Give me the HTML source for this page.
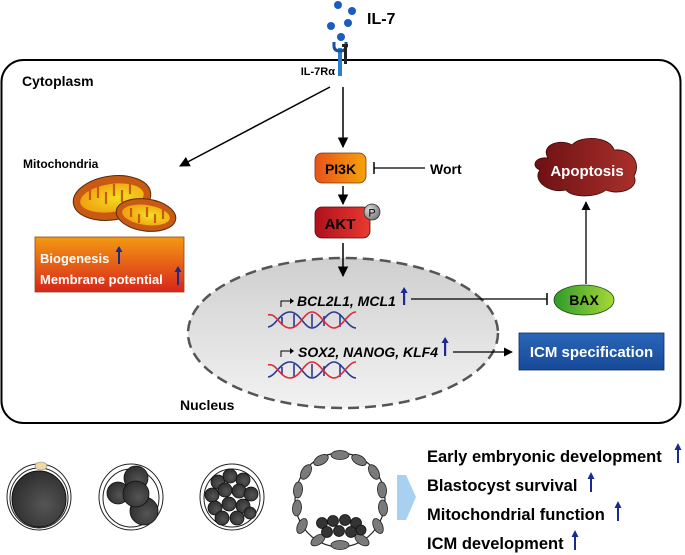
<!DOCTYPE html>
<html><head><meta charset="utf-8"><style>
html,body{margin:0;padding:0;background:#fff;width:685px;height:555px;overflow:hidden}
svg{display:block;font-family:"Liberation Sans",Arial,sans-serif;font-weight:bold}
</style></head><body>
<svg width="685" height="555" viewBox="0 0 685 555" xmlns="http://www.w3.org/2000/svg">
<defs>
<marker id="ah" viewBox="0 0 10 10" refX="9" refY="5" markerWidth="7" markerHeight="7" orient="auto-start-reverse"><path d="M0,0 L10,5 L0,10 z" fill="#000"/></marker>
<linearGradient id="pi3k" x1="0" x2="1"><stop offset="0" stop-color="#e8521a"/><stop offset="1" stop-color="#f5a20a"/></linearGradient>
<linearGradient id="akt" x1="0" x2="1"><stop offset="0" stop-color="#b0101c"/><stop offset="1" stop-color="#e83a30"/></linearGradient>
<linearGradient id="bio" x1="0" y1="0" x2="0" y2="1"><stop offset="0" stop-color="#f39a12"/><stop offset="1" stop-color="#d8251c"/></linearGradient>
<linearGradient id="apo" x1="0" x2="1"><stop offset="0" stop-color="#6e1014"/><stop offset="1" stop-color="#a8302a"/></linearGradient>
<linearGradient id="bax" x1="0" x2="1"><stop offset="0" stop-color="#2e9a2a"/><stop offset="1" stop-color="#a8d838"/></linearGradient>
<linearGradient id="icm" x1="0" y1="0" x2="0" y2="1"><stop offset="0" stop-color="#2a66b8"/><stop offset="1" stop-color="#174a98"/></linearGradient>
<linearGradient id="nuc" x1="0" y1="0" x2="0" y2="1"><stop offset="0" stop-color="#cfcfcf"/><stop offset="1" stop-color="#f2f2f2"/></linearGradient>
<radialGradient id="emb" cx="0.6" cy="0.6" r="0.7"><stop offset="0" stop-color="#555"/><stop offset="1" stop-color="#2a2a2a"/></radialGradient>
<radialGradient id="pc" cx="0.35" cy="0.35" r="0.7"><stop offset="0" stop-color="#ddd"/><stop offset="1" stop-color="#777"/></radialGradient>
<radialGradient id="mito" cx="0.6" cy="0.5" r="0.6"><stop offset="0" stop-color="#f2e020"/><stop offset="1" stop-color="#f0a010"/></radialGradient>
</defs>

<rect x="1.5" y="60" width="679" height="363" rx="22" fill="none" stroke="#000" stroke-width="2"/>

<g fill="#1a5cbf"><circle cx="338" cy="5" r="4"/><circle cx="352" cy="11" r="4"/><circle cx="331" cy="26" r="4"/><circle cx="348" cy="23" r="4"/><circle cx="341" cy="37" r="4"/></g>
<text x="367" y="24" font-size="16">IL-7</text>
<rect x="338" y="48" width="4" height="28" fill="#2a7fd0"/>
<path d="M334,42 v4 q0,5 6,5 q6,0 6,-5 v-4" fill="none" stroke="#1a4fa0" stroke-width="3"/>
<rect x="344" y="44" width="3" height="20" fill="#222"/>
<rect x="342" y="44" width="6" height="3" fill="#222"/>
<text x="335" y="75" font-size="11" text-anchor="end">IL-7Rα</text>
<text x="22" y="86" font-size="14">Cytoplasm</text>

<line x1="330" y1="87" x2="180" y2="166" stroke="#000" stroke-width="1.5" marker-end="url(#ah)"/>
<line x1="343" y1="87" x2="343" y2="147" stroke="#000" stroke-width="1.5" marker-end="url(#ah)"/>

<text x="23" y="168" font-size="12">Mitochondria</text>
<g stroke="#5a2a08" stroke-width="1">
<ellipse cx="112" cy="198" rx="39" ry="22" transform="rotate(-8 112 198)" fill="#c95a14"/>
<ellipse cx="112" cy="198" rx="32" ry="14" transform="rotate(-8 112 198)" fill="url(#mito)" stroke="none"/>
<ellipse cx="146" cy="215" rx="30" ry="16" transform="rotate(8 146 215)" fill="#c95a14"/>
<ellipse cx="146" cy="215" rx="24" ry="10" transform="rotate(8 146 215)" fill="url(#mito)" stroke="none"/>
</g>
<g stroke="#c95a14" stroke-width="2.2">
<line x1="90" y1="190" x2="90" y2="200"/><line x1="98" y1="186" x2="98" y2="198"/><line x1="106" y1="192" x2="106" y2="204"/><line x1="114" y1="184" x2="114" y2="196"/><line x1="122" y1="190" x2="122" y2="202"/><line x1="130" y1="183" x2="130" y2="194"/>
<line x1="131" y1="208" x2="131" y2="217"/><line x1="139" y1="214" x2="139" y2="223"/><line x1="147" y1="207" x2="147" y2="217"/><line x1="155" y1="214" x2="155" y2="223"/><line x1="163" y1="209" x2="163" y2="219"/>
</g>
<rect x="35" y="237" width="149" height="55" fill="url(#bio)" stroke="#8a4a1a" stroke-width="0.8"/>
<text x="40" y="263" font-size="13" fill="#fff">Biogenesis</text>
<text x="40" y="284" font-size="13" fill="#fff">Membrane potential</text>
<g fill="#1a2a90"><rect x="118" y="250" width="2" height="14"/><path d="M115.5,252 l3.5,-6 l3.5,6z"/><rect x="177" y="270" width="2" height="15"/><path d="M174.5,272 l3.5,-6 l3.5,6z"/></g>

<rect x="315" y="153" width="51" height="30" rx="7" fill="url(#pi3k)" stroke="#7a3a0a" stroke-width="0.8"/>
<text x="340.5" y="174" font-size="14" text-anchor="middle">PI3K</text>
<line x1="374" y1="168" x2="425" y2="168" stroke="#000" stroke-width="1.3"/>
<line x1="374" y1="162" x2="374" y2="174" stroke="#000" stroke-width="1.5"/>
<text x="430" y="174" font-size="14">Wort</text>
<line x1="343" y1="186" x2="343" y2="204" stroke="#000" stroke-width="1.5" marker-end="url(#ah)"/>
<rect x="315" y="207" width="55" height="31" rx="7" fill="url(#akt)" stroke="#5a0a0a" stroke-width="0.8"/>
<text x="340" y="229" font-size="15" text-anchor="middle">AKT</text>
<circle cx="372" cy="212" r="8" fill="url(#pc)" stroke="#333" stroke-width="0.8"/>
<text x="372" y="216.5" font-size="11" font-weight="normal" text-anchor="middle">P</text>

<ellipse cx="343" cy="333" rx="155" ry="75" fill="url(#nuc)" stroke="#555" stroke-width="2.5" stroke-dasharray="11,6"/>
<line x1="343" y1="243" x2="343" y2="276" stroke="#000" stroke-width="1.5" marker-end="url(#ah)"/>
<text x="180" y="410" font-size="14">Nucleus</text>

<path d="M281,307 v-6 h10" fill="none" stroke="#000" stroke-width="1"/><path d="M290,298 l4,3 l-4,3z"/>
<text x="297" y="306" font-size="14" font-style="italic">BCL2L1, MCL1</text>
<g fill="#1a2a90"><rect x="403" y="291" width="2.2" height="14"/><path d="M400.5,293 l3.6,-6 l3.6,6z"/></g>
<line x1="411" y1="299" x2="547" y2="299" stroke="#000" stroke-width="1.3"/>
<line x1="547" y1="293" x2="547" y2="305" stroke="#000" stroke-width="1.5"/>

<path d="M281,357 v-6 h10" fill="none" stroke="#000" stroke-width="1"/><path d="M290,348 l4,3 l-4,3z"/>
<text x="298" y="357" font-size="14" font-style="italic">SOX2, NANOG, KLF4</text>
<g fill="#1a2a90"><rect x="444" y="341" width="2.2" height="15"/><path d="M441.5,343 l3.6,-6 l3.6,6z"/></g>
<line x1="453" y1="352" x2="512" y2="352" stroke="#000" stroke-width="1.3" marker-end="url(#ah)"/>

<g fill="none" stroke-width="1.6">
<g id="dna">
<g stroke="#2a3a90"><line x1="282" y1="317" x2="282" y2="325"/><line x1="294" y1="314" x2="294" y2="327"/><line x1="312" y1="314" x2="312" y2="327"/><line x1="324" y1="316" x2="324" y2="326"/><line x1="340" y1="314" x2="340" y2="327"/></g>
<path d="M268,327 C276,326 280,312 290,312 S304,328 312,328 S326,312 334,312 S348,328 356,328" stroke="#2a3a90"/>
<path d="M268,315 C276,312 280,328 290,328 S304,312 312,312 S326,328 334,328 S348,312 356,312" stroke="#e0283a"/>
</g>
<use href="#dna" transform="translate(0,50)"/>
</g>

<ellipse cx="584" cy="300" rx="30" ry="15" fill="url(#bax)" stroke="#1a4a10" stroke-width="0.8"/>
<text x="584" y="305" font-size="14" text-anchor="middle">BAX</text>
<line x1="586" y1="284" x2="586" y2="202" stroke="#000" stroke-width="1.3" marker-end="url(#ah)"/>

<path d="M548,158 C540,145 560,138 572,145 C580,135 610,136 614,150 C630,148 642,162 634,176 C640,188 620,196 606,190 C596,198 572,198 566,190 C548,194 532,180 540,170 C530,166 536,156 548,158 Z" fill="url(#apo)" stroke="#3a0808" stroke-width="0.8"/>
<text x="587" y="176" font-size="15" fill="#fff" text-anchor="middle">Apoptosis</text>

<rect x="519" y="333" width="145" height="37" fill="url(#icm)" stroke="#0a2a60" stroke-width="0.8"/>
<text x="591.5" y="357" font-size="15" fill="#fff" text-anchor="middle">ICM specification</text>

<!-- embryos -->
<ellipse cx="39" cy="497" rx="32" ry="33" fill="#fff" stroke="#222"/>
<ellipse cx="39" cy="498" rx="29" ry="30" fill="none" stroke="#222"/>
<ellipse cx="41" cy="466" rx="6" ry="4" fill="#f0d8a0" stroke="#888" stroke-width="0.6"/>
<ellipse cx="39" cy="499" rx="27" ry="28" fill="url(#emb)" stroke="#111"/>

<ellipse cx="131" cy="497" rx="32" ry="33" fill="#fff" stroke="#222"/>
<ellipse cx="131" cy="498" rx="28" ry="29" fill="none" stroke="#222"/>
<g fill="url(#emb)" stroke="#111" stroke-width="0.8">
<circle cx="118" cy="493" r="11"/><circle cx="144" cy="511" r="14"/><circle cx="136" cy="478" r="12"/><circle cx="136" cy="494" r="13"/></g>

<ellipse cx="232" cy="497" rx="32" ry="33" fill="#fff" stroke="#222"/>
<ellipse cx="232" cy="498" rx="28" ry="29" fill="none" stroke="#222"/>
<g fill="url(#emb)" stroke="#111" stroke-width="0.8">
<circle cx="218" cy="482" r="7"/><circle cx="230" cy="476" r="7"/><circle cx="243" cy="480" r="7"/><circle cx="212" cy="495" r="7"/><circle cx="225" cy="490" r="7"/><circle cx="239" cy="491" r="7"/><circle cx="251" cy="494" r="7"/><circle cx="215" cy="508" r="7"/><circle cx="229" cy="504" r="7"/><circle cx="243" cy="506" r="7"/><circle cx="222" cy="518" r="7"/><circle cx="237" cy="518" r="7"/><circle cx="250" cy="513" r="6"/></g>

<ellipse cx="340" cy="500" rx="45" ry="47" fill="#fff" stroke="#222" stroke-width="1.2"/>
<g fill="#7a7a7a" stroke="#222" stroke-width="0.8">
<ellipse cx="340" cy="455" rx="9" ry="4.5"/><ellipse cx="321" cy="460" rx="8" ry="4.5" transform="rotate(-30 321 460)"/><ellipse cx="359" cy="460" rx="8" ry="4.5" transform="rotate(30 359 460)"/>
<ellipse cx="306" cy="472" rx="8" ry="4.5" transform="rotate(-60 306 472)"/><ellipse cx="374" cy="472" rx="8" ry="4.5" transform="rotate(60 374 472)"/>
<ellipse cx="298" cy="490" rx="8" ry="4.5" transform="rotate(-85 298 490)"/><ellipse cx="382" cy="490" rx="8" ry="4.5" transform="rotate(85 382 490)"/>
<ellipse cx="297" cy="508" rx="8" ry="4.5" transform="rotate(95 297 508)"/><ellipse cx="383" cy="508" rx="8" ry="4.5" transform="rotate(-95 383 508)"/>
<ellipse cx="302" cy="526" rx="8" ry="4.5" transform="rotate(115 302 526)"/><ellipse cx="378" cy="526" rx="8" ry="4.5" transform="rotate(-115 378 526)"/>
<ellipse cx="318" cy="540" rx="8" ry="4.5" transform="rotate(145 318 540)"/><ellipse cx="362" cy="540" rx="8" ry="4.5" transform="rotate(-145 362 540)"/><ellipse cx="340" cy="545" rx="9" ry="4.5"/>
</g>
<g fill="#333" stroke="#111" stroke-width="0.8">
<circle cx="322" cy="523" r="5.5"/><circle cx="333" cy="521" r="5.5"/><circle cx="345" cy="520" r="5.5"/><circle cx="356" cy="523" r="5.5"/><circle cx="327" cy="532" r="5.5"/><circle cx="339" cy="531" r="5.5"/><circle cx="351" cy="532" r="5.5"/><circle cx="361" cy="530" r="5"/></g>

<path d="M397,475 L406,475 L416,497 L406,520 L397,520 Z" fill="#a8d0f0"/>

<g font-size="16.5">
<text x="427" y="462">Early embryonic development</text>
<text x="427" y="491">Blastocyst survival</text>
<text x="427" y="520">Mitochondrial function</text>
<text x="427" y="549">ICM development</text>
</g>
<g fill="#1a2a90">
<rect x="677" y="448" width="2" height="15"/><path d="M674.5,450 l3.5,-7 l3.5,7z"/>
<rect x="590" y="477" width="2" height="15"/><path d="M587.5,479 l3.5,-7 l3.5,7z"/>
<rect x="617" y="506" width="2" height="15"/><path d="M614.5,508 l3.5,-7 l3.5,7z"/>
<rect x="574" y="535" width="2" height="15"/><path d="M571.5,537 l3.5,-7 l3.5,7z"/>
</g>
</svg>
</body></html>
